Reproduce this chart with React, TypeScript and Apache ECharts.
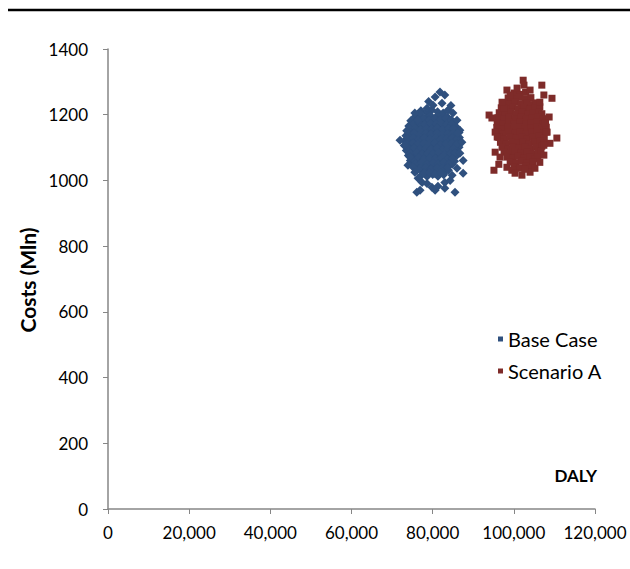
import React, { useEffect, useRef } from "react";
import * as echarts from "echarts";

const xTicks = [0, 20000, 40000, 60000, 80000, 100000, 120000];
const yTicks = [0, 200, 400, 600, 800, 1000, 1200, 1400];
const seriesNames = ["Base Case", "Scenario A"];

// Base Case: dense core, row by row, then sparse outliers
const baseCase: [number, number][] = [
  [77100, 1212], [78500, 1207], [79800, 1214], [81200, 1209], [82600, 1205],
  [75600, 1193], [76900, 1198], [78200, 1191], [79500, 1197], [80900, 1194], [82300, 1199], [83700, 1192],
  [74600, 1182], [75900, 1177], [77300, 1184], [78600, 1179], [80000, 1176], [81400, 1183], [82700, 1178], [84100, 1181], [85300, 1176],
  [74100, 1166], [75400, 1162], [76800, 1168], [78100, 1163], [79500, 1167], [80800, 1161], [82200, 1166], [83600, 1163], [84900, 1168], [85900, 1162],
  [73600, 1151], [74900, 1147], [76300, 1153], [77600, 1148], [79000, 1152], [80400, 1146], [81700, 1151], [83100, 1154], [84500, 1148], [85800, 1152], [86500, 1146],
  [73400, 1136], [74800, 1132], [76100, 1138], [77500, 1133], [78900, 1137], [80200, 1131], [81600, 1136], [83000, 1139], [84300, 1133], [85600, 1137], [86600, 1131],
  [73100, 1121], [74500, 1117], [75800, 1123], [77200, 1118], [78600, 1122], [80000, 1116], [81300, 1121], [82700, 1124], [84100, 1118], [85400, 1122], [86400, 1116],
  [73000, 1106], [74400, 1102], [75700, 1108], [77100, 1103], [78500, 1107], [79900, 1101], [81200, 1106], [82600, 1109], [84000, 1103], [85300, 1107], [86500, 1101],
  [73500, 1091], [74900, 1087], [76200, 1093], [77600, 1088], [79000, 1092], [80300, 1086], [81700, 1091], [83100, 1094], [84400, 1088], [85800, 1092],
  [74000, 1076], [75400, 1072], [76700, 1078], [78100, 1073], [79500, 1077], [80800, 1071], [82200, 1076], [83600, 1079], [84900, 1073], [86000, 1077],
  [74500, 1061], [75900, 1057], [77300, 1063], [78700, 1058], [80000, 1062], [81400, 1056], [82800, 1061], [84100, 1064], [85400, 1058],
  [75100, 1046], [76500, 1042], [77900, 1048], [79300, 1043], [80700, 1047], [82000, 1041], [83400, 1046], [84800, 1049],
  [76100, 1031], [77500, 1027], [78900, 1033], [80200, 1028], [81600, 1032], [83000, 1026], [83900, 1031],
  [77200, 1016], [78600, 1012], [80000, 1018], [81300, 1013], [82700, 1017],
  [76300, 1187], [77700, 1189], [79100, 1185], [80500, 1188], [81900, 1186], [83300, 1189], [84600, 1185],
  [75200, 1172], [76600, 1174], [78000, 1170], [79400, 1173], [80800, 1171], [82100, 1174], [83500, 1170], [84800, 1172],
  [74300, 1157], [75700, 1159], [77000, 1155], [78400, 1158], [79800, 1156], [81100, 1159], [82500, 1155], [83900, 1157], [85200, 1158],
  [74100, 1142], [75500, 1144], [76900, 1140], [78200, 1143], [79600, 1141], [81000, 1144], [82300, 1140], [83700, 1142], [85000, 1143],
  [73800, 1127], [75200, 1129], [76500, 1125], [77900, 1128], [79300, 1126], [80700, 1129], [82000, 1125], [83400, 1127], [84800, 1128], [85900, 1126],
  [73700, 1112], [75100, 1114], [76400, 1110], [77800, 1113], [79200, 1111], [80600, 1114], [81900, 1110], [83300, 1112], [84700, 1113], [85900, 1111],
  [74100, 1097], [75500, 1099], [76900, 1095], [78300, 1098], [79600, 1096], [81000, 1099], [82400, 1095], [83800, 1097], [85100, 1098],
  [74600, 1082], [76000, 1084], [77400, 1080], [78800, 1083], [80100, 1081], [81500, 1084], [82900, 1080], [84300, 1082], [85500, 1083],
  [75100, 1067], [76500, 1069], [77900, 1065], [79300, 1068], [80700, 1066], [82100, 1069], [83500, 1065], [84800, 1067],
  [75800, 1052], [77200, 1054], [78600, 1050], [80000, 1053], [81300, 1051], [82700, 1054], [84100, 1050],
  [76800, 1037], [78200, 1039], [79600, 1035], [81000, 1038], [82300, 1036], [83600, 1039],
  [77900, 1022], [79300, 1024], [80600, 1020], [82000, 1023],
  [71950, 1122], [81800, 1269], [80600, 1254], [83000, 1260], [82300, 1235], [80100, 1229], [78600, 1220],
  [83800, 1214], [85000, 1205], [86000, 1183], [76900, 1205], [76400, 1183], [86700, 1153], [86200, 1144],
  [73200, 1107], [87200, 1116], [86700, 1083], [87500, 1061], [74400, 1071], [73900, 1046], [75200, 1040],
  [75600, 1025], [86000, 1037], [87500, 1022], [84800, 1016], [76400, 1007], [77400, 994], [78600, 991],
  [83000, 994], [84300, 1000], [79800, 979], [81300, 982], [80600, 970], [76900, 970], [76100, 964],
  [85500, 964], [83000, 976], [75600, 1205], [79000, 1240], [84500, 1228],
];

// Scenario A: dense core, row by row, then sparse outliers
const scenarioA: [number, number][] = [
  [100100, 1266], [101500, 1262], [102900, 1268],
  [98600, 1251], [100000, 1247], [101400, 1253], [102800, 1248], [104200, 1252],
  [97600, 1236], [99000, 1232], [100400, 1238], [101800, 1233], [103200, 1237], [104600, 1231], [105400, 1236],
  [96900, 1221], [98300, 1217], [99700, 1223], [101100, 1218], [102500, 1222], [103900, 1216], [105300, 1221], [106400, 1224],
  [96400, 1206], [97800, 1202], [99200, 1208], [100600, 1203], [102000, 1207], [103400, 1201], [104800, 1206], [106200, 1209], [106900, 1203],
  [96100, 1191], [97500, 1187], [98900, 1193], [100300, 1188], [101700, 1192], [103100, 1186], [104500, 1191], [105900, 1194], [107300, 1188],
  [95900, 1176], [97300, 1172], [98700, 1178], [100100, 1173], [101500, 1177], [102900, 1171], [104300, 1176], [105700, 1179], [107100, 1173], [107800, 1177],
  [95800, 1161], [97200, 1157], [98600, 1163], [100000, 1158], [101400, 1162], [102800, 1156], [104200, 1161], [105600, 1164], [107000, 1158], [108000, 1162],
  [96000, 1146], [97400, 1142], [98800, 1148], [100200, 1143], [101600, 1147], [103000, 1141], [104400, 1146], [105800, 1149], [107200, 1143], [108000, 1147],
  [96300, 1131], [97700, 1127], [99100, 1133], [100500, 1128], [101900, 1132], [103300, 1126], [104700, 1131], [106100, 1134], [107500, 1128],
  [96700, 1116], [98100, 1112], [99500, 1118], [100900, 1113], [102300, 1117], [103700, 1111], [105100, 1116], [106500, 1119], [107400, 1113],
  [97100, 1101], [98500, 1097], [99900, 1103], [101300, 1098], [102700, 1102], [104100, 1096], [105500, 1101], [106900, 1104],
  [97600, 1086], [99000, 1082], [100400, 1088], [101800, 1083], [103200, 1087], [104600, 1081], [106000, 1086], [106700, 1089],
  [98300, 1071], [99700, 1067], [101100, 1073], [102500, 1068], [103900, 1072], [105300, 1066], [105900, 1071],
  [99100, 1056], [100500, 1052], [101900, 1058], [103300, 1053], [104700, 1057],
  [100100, 1041], [101500, 1037], [102900, 1043], [103900, 1038],
  [102300, 1305], [102500, 1290], [106900, 1290], [98300, 1275], [100800, 1281], [109400, 1250], [107400, 1260],
  [106400, 1238], [93900, 1199], [94600, 1190], [108700, 1193], [107700, 1174], [95400, 1147], [95900, 1132],
  [108200, 1147], [110600, 1129], [108900, 1113], [107400, 1107], [95400, 1086], [96600, 1071], [107400, 1077],
  [106400, 1055], [96300, 1049], [95100, 1031], [98300, 1040], [99500, 1031], [100300, 1022], [102000, 1016],
  [104000, 1025], [105200, 1037], [102700, 1034], [97600, 1220], [97100, 1238], [99100, 1260], [104000, 1275],
];

const BLUE = "#2F507E";
const RED = "#7E2B29";
const AXIS = "#868686";
const FONT = "Lato, 'Open Sans', sans-serif";

export default function App() {
  const ref = useRef<HTMLDivElement>(null);
  useEffect(() => {
    if (!ref.current) return;
    const chart = echarts.init(ref.current, null, { renderer: "svg" });
    chart.setOption({
      animation: false,
      backgroundColor: "#ffffff",
      textStyle: { fontFamily: FONT },
      grid: { left: 108, top: 49, right: 35, bottom: 60, containLabel: false },
      legend: {
        left: 493,
        top: 324,
        orient: "vertical",
        itemWidth: 5,
        itemHeight: 5,
        itemGap: 12,
        icon: "rect",
        textStyle: { fontSize: 20, color: "#000", fontFamily: FONT },
        data: seriesNames,
      },
      xAxis: {
        type: "value",
        min: xTicks[0],
        max: xTicks[xTicks.length - 1],
        interval: 20000,
        splitLine: { show: false },
        axisLine: { show: true, lineStyle: { color: AXIS, width: 1.5 } },
        axisTick: { show: true, inside: false, length: 5, lineStyle: { color: AXIS } },
        axisLabel: {
          color: "#000",
          fontSize: 17,
          margin: 15,
          fontFamily: FONT,
          formatter: (v: number) => v.toLocaleString("en-US"),
        },
      },
      yAxis: {
        type: "value",
        min: yTicks[0],
        max: yTicks[yTicks.length - 1],
        interval: 200,
        splitLine: { show: false },
        axisLine: { show: true, lineStyle: { color: AXIS, width: 1.5 } },
        axisTick: { show: true, inside: false, length: 5, lineStyle: { color: AXIS } },
        axisLabel: {
          color: "#000",
          fontSize: 17,
          margin: 20,
          fontFamily: FONT,
          formatter: (v: number) => String(v),
        },
      },
      graphic: [
        {
          type: "line",
          shape: { x1: 8, y1: 10, x2: 630, y2: 10 },
          style: { stroke: "#000", lineWidth: 2.5 },
        },
        {
          type: "text",
          x: 27,
          y: 280,
          rotation: Math.PI / 2,
          style: {
            text: "Costs (Mln)",
            fontSize: 21,
            fontWeight: "bold",
            fontFamily: FONT,
            fill: "#000",
            align: "center",
            verticalAlign: "middle",
          },
        },
        {
          type: "text",
          x: 597,
          y: 475,
          style: {
            text: "DALY",
            fontSize: 17,
            fontWeight: "bold",
            fontFamily: FONT,
            fill: "#000",
            align: "right",
            verticalAlign: "middle",
          },
        },
      ],
      series: [
        {
          name: seriesNames[0],
          type: "scatter",
          symbol: "diamond",
          symbolSize: 9,
          itemStyle: { color: BLUE, opacity: 1 },
          data: baseCase,
        },
        {
          name: seriesNames[1],
          type: "scatter",
          symbol: "rect",
          symbolSize: 7,
          itemStyle: { color: RED, opacity: 1 },
          data: scenarioA,
        },
      ],
    });
    return () => chart.dispose();
  }, []);
  return (
    <div
      ref={ref}
      style={{ position: "fixed", left: 0, top: 0, width: 630, height: 569 }}
    />
  );
}
